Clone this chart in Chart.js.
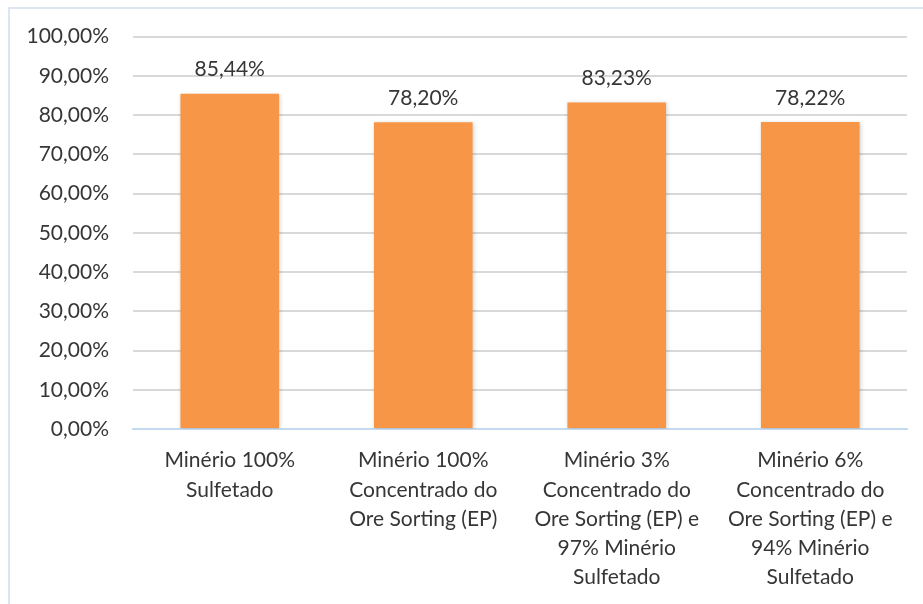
<!DOCTYPE html>
<html>
<head>
<meta charset="utf-8">
<script src="https://cdn.jsdelivr.net/npm/chart.js@4"></script>
<style>
  html, body { margin: 0; padding: 0; background: #fff; }
  #wrap { position: relative; width: 923px; height: 604px; }
</style>
</head>
<body>
<div id="wrap"><canvas id="chart" width="923" height="604"></canvas></div>
<script>
// categories and recovery values (%)
const categories = [
  ['Minério 100%', 'Sulfetado'],
  ['Minério 100%', 'Concentrado do', 'Ore Sorting (EP)'],
  ['Minério 3%', 'Concentrado do', 'Ore Sorting (EP) e', '97% Minério', 'Sulfetado'],
  ['Minério 6%', 'Concentrado do', 'Ore Sorting (EP) e', '94% Minério', 'Sulfetado']
];
const recovery = [85.44, 78.20, 83.23, 78.22];
const yTicks = [0, 10, 20, 30, 40, 50, 60, 70, 80, 90, 100];

const FONT = 'Lato, "Open Sans", sans-serif';
const TEXT = '#363636';
const pct = v => v.toFixed(2).replace('.', ',') + '%';

// outer frame, only top and left edges are visible
const framePlugin = {
  id: 'frame',
  beforeDraw(chart) {
    const ctx = chart.ctx;
    ctx.save();
    ctx.strokeStyle = '#dce6f2';
    ctx.lineWidth = 2;
    ctx.beginPath();
    ctx.moveTo(9, 604);
    ctx.lineTo(9, 8);
    ctx.lineTo(923, 8);
    ctx.stroke();
    ctx.restore();
  }
};

// soft shadow behind the bars
const barShadow = {
  id: 'barShadow',
  beforeDatasetsDraw(chart) {
    const ctx = chart.ctx;
    ctx.save();
    ctx.shadowColor = 'rgba(0,0,0,0.18)';
    ctx.shadowBlur = 4;
    ctx.shadowOffsetX = 1;
    ctx.shadowOffsetY = 1;
  },
  afterDatasetsDraw(chart) {
    chart.ctx.restore();
  }
};

// value labels above each bar
const valueLabels = {
  id: 'valueLabels',
  afterDatasetsDraw(chart) {
    const ctx = chart.ctx;
    const meta = chart.getDatasetMeta(0);
    ctx.save();
    ctx.font = '21px ' + FONT;
    ctx.fillStyle = TEXT;
    ctx.textAlign = 'center';
    ctx.textBaseline = 'middle';
    meta.data.forEach((bar, i) => {
      ctx.fillText(pct(recovery[i]), bar.x, bar.y - 24);
    });
    ctx.restore();
  }
};

new Chart(document.getElementById('chart'), {
  type: 'bar',
  data: {
    labels: categories,
    datasets: [{
      data: recovery,
      backgroundColor: '#f79646',
      borderWidth: 0,
      barPercentage: 0.51,
      categoryPercentage: 1
    }]
  },
  options: {
    responsive: false,
    animation: false,
    layout: { padding: { top: 28, right: 16, bottom: 0, left: 0 } },
    plugins: {
      legend: { display: false },
      tooltip: { enabled: false }
    },
    scales: {
      x: {
        afterFit: scale => { scale.height = 175; },
        grid: { display: false, drawTicks: false },
        border: { color: '#c5d9f1', width: 2 },
        ticks: {
          color: TEXT,
          font: { family: FONT, size: 21, lineHeight: 1.39 },
          padding: 17,
          maxRotation: 0,
          autoSkip: false
        }
      },
      y: {
        min: 0,
        max: 100,
        afterBuildTicks: scale => { scale.ticks = yTicks.map(v => ({ value: v })); },
        afterFit: scale => { scale.width = 133; },
        grid: {
          color: ctx => ctx.tick && ctx.tick.value === 0 ? '#c5d9f1' : '#d9d9d9',
          lineWidth: 2,
          drawTicks: false
        },
        border: { display: false },
        ticks: {
          color: TEXT,
          font: { family: FONT, size: 21 },
          padding: 24,
          callback: v => pct(v)
        }
      }
    }
  },
  plugins: [framePlugin, barShadow, valueLabels]
});
</script>
</body>
</html>
